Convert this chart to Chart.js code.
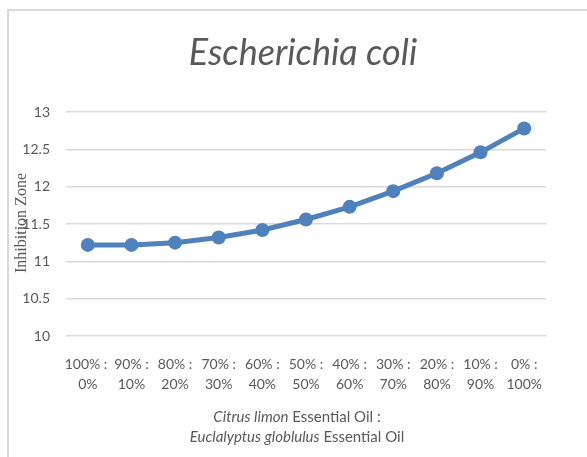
<!DOCTYPE html>
<html>
<head>
<meta charset="utf-8">
<script src="https://cdn.jsdelivr.net/npm/chart.js@4/dist/chart.umd.min.js"></script>
<style>
  body { margin: 0; background: #fff; }
  canvas { display: block; }
</style>
</head>
<body>
<canvas id="ecoliChart" width="587" height="457"></canvas>
<script>
// ratios: Citrus limon : Euclalyptus globlulus
const ratioLabels = [
  ["100% : ", "0%"], ["90% :", "10%"], ["80% :", "20%"], ["70% :", "30%"],
  ["60% :", "40%"], ["50% :", "50%"], ["40% :", "60%"], ["30% :", "70%"],
  ["20% :", "80%"], ["10% :", "90%"], ["0% :", "100%"]
];
const inhibitionZone = [11.22, 11.22, 11.25, 11.32, 11.42, 11.56, 11.73, 11.94, 12.18, 12.46, 12.78];
const yTicks = [10, 10.5, 11, 11.5, 12, 12.5, 13];
const chartTitle = "Escherichia coli";

const textGray = "#595959";
const gridGray = "#d9d9d9";

// frame around the chart object (left and top edges only are visible)
const framePlugin = {
  id: "frame",
  beforeDraw(chart) {
    const c = chart.ctx;
    c.save();
    c.fillStyle = "#fff";
    c.fillRect(0, 0, chart.width, chart.height);
    c.strokeStyle = gridGray;
    c.lineWidth = 2;
    c.beginPath();
    c.moveTo(8, chart.height);
    c.lineTo(8, 10);
    c.lineTo(chart.width, 10);
    c.stroke();
    c.restore();
  }
};

// title + axis titles (y one in serif, x one with italic species names)
const titles = {
  id: "titles",
  afterDraw(chart) {
    const c = chart.ctx;
    const area = chart.chartArea;
    const cx = (area.left + area.right) / 2;
    c.save();
    c.fillStyle = textGray;
    c.textBaseline = "middle";

    // chart title, centred over the plot area
    c.textAlign = "center";
    c.font = "italic 36px Lato";
    c.fillText(chartTitle, cx - 3, 53);

    // y title
    c.save();
    c.translate(22, 223);
    c.rotate(-Math.PI / 2);
    c.textAlign = "center";
    c.font = "16px 'Liberation Serif'";
    c.fillText("Inhibition Zone", 0, 0);
    c.restore();

    // x title, two lines, mixed styles
    const lines = [
      [["Citrus limon", true], [" Essential Oil :", false]],
      [["Euclalyptus globlulus", true], [" Essential Oil", false]]
    ];
    const ys = [417, 437];
    c.textAlign = "left";
    lines.forEach((parts, i) => {
      let total = 0;
      parts.forEach(([t, it]) => {
        c.font = (it ? "italic " : "") + "15px Lato";
        total += c.measureText(t).width;
      });
      let x = cx - 9 - total / 2;
      parts.forEach(([t, it]) => {
        c.font = (it ? "italic " : "") + "15px Lato";
        c.fillText(t, x, ys[i]);
        x += c.measureText(t).width;
      });
    });
    c.restore();
  }
};

const ctx = document.getElementById("ecoliChart").getContext("2d");
const ecoliChart = new Chart(ctx, {
  type: "line",
  data: {
    labels: ratioLabels,
    datasets: [
      {
        label: chartTitle,
        data: inhibitionZone,
        borderColor: "#4f81bd",
        backgroundColor: "#4f81bd",
        borderWidth: 5,
        pointRadius: 7,
        pointHoverRadius: 7,
        pointBorderWidth: 0,
        tension: 0,
        fill: false,
      },
    ],
  },
  options: {
    responsive: false,
    animation: false,
    layout: {
      padding: { top: 112, right: 41, bottom: 0, left: 0 },
    },
    plugins: {
      legend: { display: false },
      tooltip: { enabled: false },
      title: { display: false },
    },
    scales: {
      x: {
        type: "category",
        offset: true,
        grid: { display: false },
        border: { display: false },
        ticks: {
          color: textGray,
          font: { family: "Lato", size: 14, lineHeight: 1.45 },
          padding: 10,
          autoSkip: false,
          maxRotation: 0,
          minRotation: 0,
        },
        afterFit(scale) {
          scale.height = 121;
        },
      },
      y: {
        min: 10,
        max: 13,
        afterBuildTicks(scale) {
          scale.ticks = yTicks.map((v) => ({ value: v }));
        },
        grid: {
          color: gridGray,
          lineWidth: 1.5,
          drawTicks: false,
        },
        border: { display: false },
        ticks: {
          color: textGray,
          font: { family: "Lato", size: 14 },
          padding: 16,
          callback: (value) => String(value),
        },
        afterFit(scale) {
          scale.width = 66;
        },
      },
    },
  },
  plugins: [framePlugin, titles],
});
</script>
</body>
</html>
